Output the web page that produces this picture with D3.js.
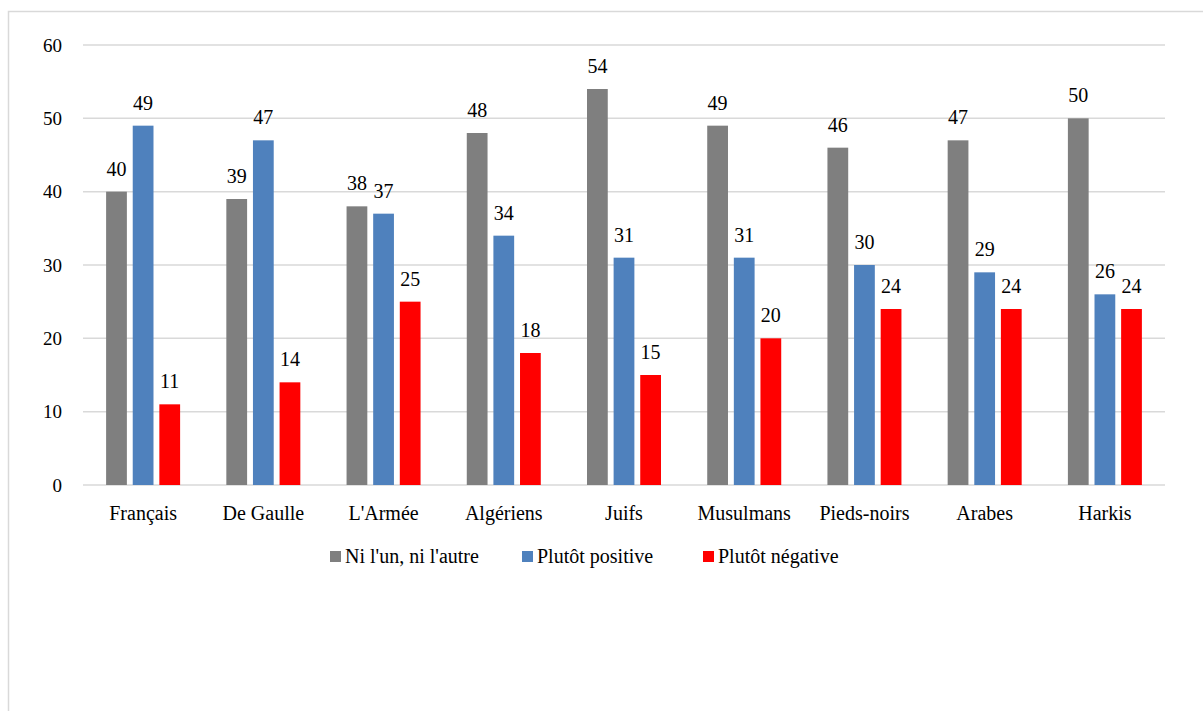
<!DOCTYPE html>
<html><head><meta charset="utf-8">
<script src="https://cdn.jsdelivr.net/npm/d3@7"></script>
<style>body{margin:0;background:#fff}svg{display:block}svg text{font-family:"Liberation Serif","DejaVu Serif","Times New Roman",Times,serif}</style>
</head><body>
<script>
const categories = ["Français","De Gaulle","L'Armée","Algériens","Juifs","Musulmans","Pieds-noirs","Arabes","Harkis"];
const seriesNames = ["Ni l'un, ni l'autre","Plutôt positive","Plutôt négative"];
const niLunNiLautre = [40,39,38,48,54,49,46,47,50];
const plutotPositive = [49,47,37,34,31,31,30,29,26];
const plutotNegative = [11,14,25,18,15,20,24,24,24];
const yTicks = [0,10,20,30,40,50,60];
const colors = ["#7f7f7f","#4f81bd","#ff0000"];
const seriesValues = [niLunNiLautre, plutotPositive, plutotNegative];

(function(){
const W = 1203, H = 711;
const svg = d3.select("body").append("svg").attr("width", W).attr("height", H);

svg.append("rect").attr("x", 8.5).attr("y", 11.5).attr("width", W + 20).attr("height", H + 20)
  .attr("fill", "#fff").attr("stroke", "#d9d9d9").attr("stroke-width", 1.5);

const pLeft = 83, pRight = 1165, pTop = 45, pBottom = 485;
const x = d3.scaleBand().domain(categories).range([pLeft, pRight]);
const y = d3.scaleLinear().domain([0, 60]).range([pBottom, pTop]);
const inner = d3.scaleBand().domain(d3.range(3)).range([-37, 37]).paddingInner(0.22);

svg.append("g").selectAll("line").data(yTicks).join("line")
  .attr("x1", pLeft).attr("x2", pRight)
  .attr("y1", d => y(d)).attr("y2", d => y(d))
  .attr("stroke", "#d9d9d9").attr("stroke-width", 1.5);

const yAxis = d3.axisLeft(y).tickValues(yTicks).tickSize(0).tickPadding(0);
const gy = svg.append("g").attr("transform", `translate(62,0)`).call(yAxis);
gy.select(".domain").remove();
gy.attr("font-family", null);
gy.selectAll("text").attr("font-size", 19).attr("fill", "#000").attr("dy", "0.32em");

const xAxis = d3.axisBottom(x).tickSize(0).tickPadding(0);
const gx = svg.append("g").attr("transform", `translate(0,${pBottom})`).call(xAxis);
gx.select(".domain").remove();
gx.attr("font-family", null);
gx.selectAll("text").attr("font-size", 20).attr("fill", "#000")
  .attr("y", 35).attr("dy", 0);

const rows = [];
categories.forEach((c, i) => seriesValues.forEach((vals, s) => rows.push({c, s, v: vals[i]})));
const bars = svg.append("g");
bars.selectAll("rect").data(rows).join("rect")
  .attr("x", d => x(d.c) + x.bandwidth() / 2 + inner(d.s))
  .attr("width", inner.bandwidth())
  .attr("y", d => y(d.v))
  .attr("height", d => y(0) - y(d.v))
  .attr("fill", d => colors[d.s]);
bars.selectAll("text").data(rows).join("text")
  .attr("x", d => x(d.c) + x.bandwidth() / 2 + inner(d.s) + inner.bandwidth() / 2)
  .attr("y", d => y(d.v) - 16)
  .attr("text-anchor", "middle")
  .attr("font-size", 20).attr("fill", "#000")
  .text(d => d.v);

const legendX = [330, 522, 703];
const lg = svg.append("g");
seriesNames.forEach((n, i) => {
  lg.append("rect").attr("x", legendX[i]).attr("y", 551).attr("width", 11).attr("height", 11).attr("fill", colors[i]);
  lg.append("text").attr("x", legendX[i] + 15).attr("y", 563)
    .attr("font-size", 20).attr("fill", "#000").text(n);
});
})();
</script>
</body></html>
